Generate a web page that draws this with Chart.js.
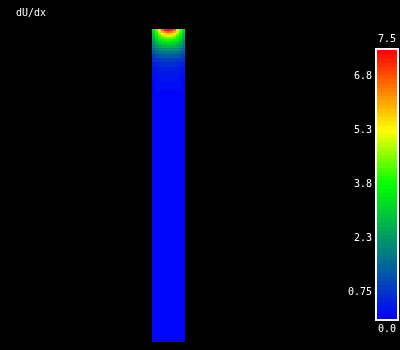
<!DOCTYPE html>
<html>
<head>
<meta charset="utf-8">
<title>dU/dx</title>
<script src="https://cdn.jsdelivr.net/npm/chart.js@4.4.1/dist/chart.umd.min.js"></script>
<style>
    html, body { margin: 0; padding: 0; background: #000; }
    #wrap { position: relative; width: 400px; height: 350px; }
    #wrap canvas { position: absolute; left: 0; top: 0; }
</style>
</head>
<body>
<div id="wrap">
    <canvas id="field" width="400" height="350"></canvas>
    <canvas id="legend" width="400" height="350"></canvas>
</div>
<script>
// --- data ---
const title = 'dU/dx';

// grid columns across the channel, left to right
const columns = ['0', '1', '2', '3', '4', '5', '6', '7', '8', '9', '10'];

// thickness of each grid row, top to bottom (grid units)
const rowHeights = [2, 2, 2, 2, 2, 2, 2, 2, 3, 3, 3, 4, 4, 5, 6, 8, 10, 15, 20, 30, 40, 50, 50, 46];

// dU/dx in each cell, one row per entry of rowHeights
const field = [
    [3.3, 4.3, 5.5, 6.6, 7.2, 7.5, 7.2, 6.6, 5.5, 4.3, 3.3],
    [3.1, 4.0, 5.0, 5.9, 6.4, 6.6, 6.4, 5.9, 5.0, 4.0, 3.1],
    [2.9, 3.8, 4.5, 5.2, 5.6, 5.7, 5.6, 5.2, 4.5, 3.8, 2.9],
    [2.7, 3.5, 4.1, 4.6, 4.9, 5.0, 4.9, 4.6, 4.1, 3.5, 2.7],
    [2.5, 3.3, 3.8, 4.1, 4.35, 4.4, 4.35, 4.1, 3.8, 3.3, 2.5],
    [2.3, 3.0, 3.45, 3.7, 3.85, 3.9, 3.85, 3.7, 3.45, 3.0, 2.3],
    [2.15, 2.75, 3.1, 3.3, 3.45, 3.5, 3.45, 3.3, 3.1, 2.75, 2.15],
    [2.0, 2.5, 2.8, 2.95, 3.05, 3.1, 3.05, 2.95, 2.8, 2.5, 2.0],
    [1.8, 2.2, 2.45, 2.6, 2.65, 2.7, 2.65, 2.6, 2.45, 2.2, 1.8],
    [1.5, 1.85, 2.0, 2.1, 2.2, 2.2, 2.2, 2.1, 2.0, 1.85, 1.5],
    [1.2, 1.45, 1.6, 1.7, 1.75, 1.75, 1.75, 1.7, 1.6, 1.45, 1.2],
    [0.9, 1.1, 1.2, 1.28, 1.32, 1.33, 1.32, 1.28, 1.2, 1.1, 0.9],
    [0.6, 0.75, 0.82, 0.88, 0.9, 0.9, 0.9, 0.88, 0.82, 0.75, 0.6],
    [0.4, 0.5, 0.56, 0.6, 0.62, 0.62, 0.62, 0.6, 0.56, 0.5, 0.4],
    [0.25, 0.33, 0.38, 0.4, 0.42, 0.42, 0.42, 0.4, 0.38, 0.33, 0.25],
    [0.12, 0.2, 0.24, 0.26, 0.27, 0.27, 0.27, 0.26, 0.24, 0.2, 0.12],
    [0.06, 0.12, 0.15, 0.17, 0.17, 0.17, 0.17, 0.17, 0.15, 0.12, 0.06],
    [0.05, 0.08, 0.09, 0.09, 0.09, 0.09, 0.09, 0.09, 0.09, 0.08, 0.05],
    [0.04, 0.06, 0.065, 0.065, 0.065, 0.065, 0.065, 0.065, 0.065, 0.06, 0.04],
    [0.04, 0.05, 0.05, 0.05, 0.05, 0.05, 0.05, 0.05, 0.05, 0.05, 0.04],
    [0.03, 0.04, 0.04, 0.04, 0.04, 0.04, 0.04, 0.04, 0.04, 0.04, 0.03],
    [0.03, 0.04, 0.04, 0.04, 0.04, 0.04, 0.04, 0.04, 0.04, 0.04, 0.03],
    [0.03, 0.05, 0.06, 0.06, 0.06, 0.06, 0.06, 0.06, 0.06, 0.05, 0.03],
    [0.03, 0.08, 0.1, 0.1, 0.1, 0.1, 0.1, 0.1, 0.1, 0.08, 0.03]
];

// colour bar range and ticks
const cbMin = 0;
const cbMax = 7.5;
const cbMinLabel = '0.0';
const cbMaxLabel = '7.5';
const cbTicks = [0.75, 2.25, 3.75, 5.25, 6.75];
const cbTickLabels = ['0.75', '2.3', '3.8', '5.3', '6.8'];

// --- colour map: blue -> green -> yellow -> red, in bands ---
const LEVELS = 64;
const STOPS = [
    [0.0, [0, 0, 255]],
    [0.5, [0, 255, 0]],
    [0.7, [255, 255, 0]],
    [1.0, [255, 0, 0]]
];
const FONT = "'DejaVu Sans Mono', monospace";

function mapColor(t) {
    for (let i = 1; i < STOPS.length; i++) {
        const [t1, c1] = STOPS[i];
        const [t0, c0] = STOPS[i - 1];
        if (t <= t1) {
            const f = (t - t0) / (t1 - t0);
            const c = c0.map((v, k) => Math.round(v + (c1[k] - v) * f));
            return `rgb(${c[0]},${c[1]},${c[2]})`;
        }
    }
    return 'rgb(255,0,0)';
}

function bandColor(k) {
    return mapColor((k + 0.5) / LEVELS);
}

function colorFor(v) {
    const t = Math.min(1, Math.max(0, (v - cbMin) / (cbMax - cbMin)));
    return bandColor(Math.min(LEVELS - 1, Math.floor(t * LEVELS)));
}

const depth = rowHeights.reduce((a, b) => a + b, 0);

const titlePlugin = {
    id: 'plotTitle',
    afterDraw(chart) {
        const ctx = chart.ctx;
        ctx.save();
        ctx.font = `10px ${FONT}`;
        ctx.fillStyle = '#fff';
        ctx.textBaseline = 'alphabetic';
        ctx.textAlign = 'left';
        ctx.fillText(title, 16, 16);
        ctx.restore();
    }
};

// field: stacked bars, one dataset per grid row
new Chart(document.getElementById('field'), {
    type: 'bar',
    data: {
        labels: columns,
        datasets: rowHeights.map((h, r) => ({
            data: columns.map(() => h),
            backgroundColor: ctx => colorFor(field[r][ctx.dataIndex]),
            borderWidth: 0,
            inflateAmount: 0,
            barPercentage: 1,
            categoryPercentage: 1
        }))
    },
    options: {
        responsive: false,
        animation: false,
        layout: { padding: { left: 152, right: 215, top: 29, bottom: 8 } },
        scales: {
            x: { display: false, stacked: true },
            y: { display: false, stacked: true, reverse: true, min: 0, max: depth }
        },
        plugins: {
            legend: { display: false },
            tooltip: { enabled: false }
        }
    },
    plugins: [titlePlugin]
});

const framePlugin = {
    id: 'cbFrame',
    afterDraw(chart) {
        const { ctx, chartArea, scales } = chart;
        const cx = (chartArea.left + chartArea.right) / 2;
        ctx.save();
        ctx.strokeStyle = '#fff';
        ctx.lineWidth = 2;
        ctx.strokeRect(chartArea.left - 1, chartArea.top - 1,
            chartArea.right - chartArea.left + 2, chartArea.bottom - chartArea.top + 2);
        ctx.font = `10px ${FONT}`;
        ctx.fillStyle = '#fff';
        ctx.textAlign = 'center';
        ctx.textBaseline = 'middle';
        ctx.fillText(cbMaxLabel, cx, scales.y.getPixelForValue(cbMax) - 11);
        ctx.fillText(cbMinLabel, cx, scales.y.getPixelForValue(cbMin) + 10);
        ctx.restore();
    }
};

// colour bar: one floating bar filled with the banded colour map
new Chart(document.getElementById('legend'), {
    type: 'bar',
    data: {
        labels: [''],
        datasets: [{
            data: [[cbMin, cbMax]],
            backgroundColor: ctx => {
                const chart = ctx.chart;
                if (!chart.chartArea) return 'rgba(0,0,0,0)';
                const y0 = chart.scales.y.getPixelForValue(cbMin);
                const y1 = chart.scales.y.getPixelForValue(cbMax);
                const g = chart.ctx.createLinearGradient(0, y0, 0, y1);
                for (let k = 0; k < LEVELS; k++) {
                    g.addColorStop(k / LEVELS, bandColor(k));
                    g.addColorStop((k + 1) / LEVELS, bandColor(k));
                }
                return g;
            },
            borderWidth: 0,
            inflateAmount: 0,
            barPercentage: 1,
            categoryPercentage: 1
        }]
    },
    options: {
        responsive: false,
        animation: false,
        layout: { padding: { left: 317, right: 3, top: 50, bottom: 31 } },
        scales: {
            x: { display: false },
            y: {
                min: cbMin,
                max: cbMax,
                afterFit: scale => { scale.width = 60; },
                afterBuildTicks: scale => { scale.ticks = cbTicks.map(v => ({ value: v })); },
                ticks: {
                    callback: (value, index) => cbTickLabels[index],
                    color: '#fff',
                    font: { family: FONT, size: 10 },
                    padding: 5
                },
                grid: { display: false, drawTicks: false },
                border: { display: false }
            }
        },
        plugins: {
            legend: { display: false },
            tooltip: { enabled: false }
        }
    },
    plugins: [framePlugin]
});
</script>
</body>
</html>
